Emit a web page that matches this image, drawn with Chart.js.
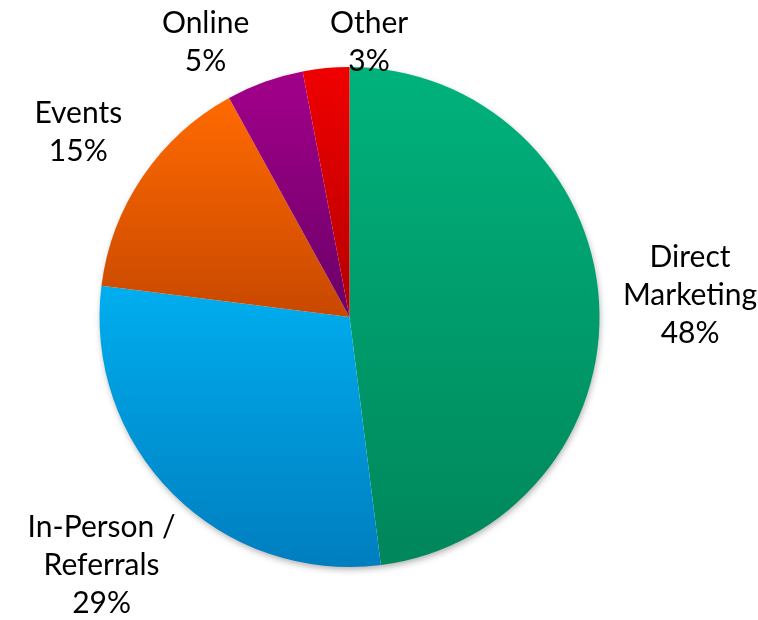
<!DOCTYPE html>
<html>
<head>
<meta charset="utf-8">
<script src="https://cdn.jsdelivr.net/npm/chart.js@4/dist/chart.umd.min.js"></script>
<style>
  html, body { margin: 0; padding: 0; background: #fff; }
  canvas { display: block; }
</style>
</head>
<body>
<canvas id="chart" width="758" height="620"></canvas>
<script>
const categories = [['Direct', 'Marketing'], ['In-Person /', 'Referrals'], ['Events'], ['Online'], ['Other']]
const shares = [48, 29, 15, 5, 3]
const topColors = ['#00B27C', '#00AEEF', '#FF6A00', '#A3008A', '#F00000']
const bottomColors = ['#00865A', '#007EBF', '#C84800', '#6A0068', '#B50000']

const FONT = '30px Lato, "Open Sans", sans-serif'
const LINE_H = 38

// vertical gradient spanning each slice's own bounding box (like the office chart)
function sliceGradient(ctx) {
  const chart = ctx.chart
  const area = chart.chartArea
  if (!area) return topColors[ctx.dataIndex]
  const cx = (area.left + area.right) / 2
  const cy = (area.top + area.bottom) / 2
  const r = Math.min(area.right - area.left, area.bottom - area.top) / 2
  const total = shares.reduce((a, b) => a + b, 0)
  let before = 0
  for (let i = 0; i < ctx.dataIndex; i++) before += shares[i]
  const a0 = -Math.PI / 2 + (2 * Math.PI * before) / total
  const a1 = a0 + (2 * Math.PI * shares[ctx.dataIndex]) / total
  let minY = cy
  let maxY = cy
  for (let k = 0; k <= 120; k++) {
    const a = a0 + ((a1 - a0) * k) / 120
    const y = cy + r * Math.sin(a)
    minY = Math.min(minY, y)
    maxY = Math.max(maxY, y)
  }
  const g = chart.ctx.createLinearGradient(0, minY, 0, maxY)
  g.addColorStop(0, topColors[ctx.dataIndex])
  g.addColorStop(1, bottomColors[ctx.dataIndex])
  return g
}

const pieShadow = {
  id: 'pieShadow',
  beforeDatasetsDraw(chart) {
    const arc = chart.getDatasetMeta(0).data[0]
    if (!arc) return
    const { x, y, outerRadius } = arc.getProps(['x', 'y', 'outerRadius'], true)
    const c = chart.ctx
    c.save()
    c.shadowColor = 'rgba(0,0,0,0.35)'
    c.shadowBlur = 7
    c.shadowOffsetX = 1
    c.shadowOffsetY = 3
    c.fillStyle = '#ffffff'
    c.beginPath()
    c.arc(x, y, outerRadius - 1, 0, Math.PI * 2)
    c.fill()
    c.restore()
  },
}

const outsideLabels = {
  id: 'outsideLabels',
  afterDatasetsDraw(chart) {
    const c = chart.ctx
    const meta = chart.getDatasetMeta(0)
    const total = shares.reduce((a, b) => a + b, 0)
    const gap = 20
    const pad = 4
    const placed = []
    c.save()
    c.font = FONT
    c.fillStyle = '#000'
    c.textAlign = 'center'
    c.textBaseline = 'middle'
    meta.data.forEach((arc, i) => {
      const p = arc.getProps(['x', 'y', 'startAngle', 'endAngle', 'outerRadius'], true)
      const lines = categories[i].concat([Math.round((shares[i] / total) * 100) + '%'])
      const w = Math.max(...lines.map(l => c.measureText(l).width)) + pad * 2
      const h = lines.length * LINE_H
      const mid = (p.startAngle + p.endAngle) / 2
      const ux = Math.cos(mid)
      const uy = Math.sin(mid)
      const t = Math.min(Math.abs(ux) > 1e-6 ? w / 2 / Math.abs(ux) : Infinity,
        Math.abs(uy) > 1e-6 ? h / 2 / Math.abs(uy) : Infinity)
      const d = p.outerRadius + gap + t
      let lx = p.x + ux * d
      let ly = p.y + uy * d
      const minY = h / 2 + 4
      const maxY = chart.height - h / 2 + 2
      if (ly < minY || ly > maxY) {
        const ny = ly < minY ? minY : maxY
        const dy = ny - p.y
        const slide = Math.sqrt(Math.max(d * d - dy * dy, 0)) * Math.sign(ux)
        let sx = p.x + slide
        const other = placed.find(b => Math.abs(b.x - sx) < (b.w + w) / 2 && Math.abs(b.y - ny) < (b.h + h) / 2)
        if (other) {
          // crowded: sit beside the slice's rim point, away from the neighbour
          const rimX = p.x + ux * p.outerRadius
          sx = rimX + (w / 2) * (other.x < rimX ? 1 : -1)
        }
        lx = sx
        ly = ny
      }
      placed.push({ x: lx, y: ly, w, h })
      lines.forEach((l, k) => {
        c.fillText(l, lx, ly - h / 2 + LINE_H * (k + 0.5))
      })
    })
    c.restore()
  },
}

new Chart(document.getElementById('chart'), {
  type: 'pie',
  data: {
    labels: categories.map(l => l.join(' ')),
    datasets: [{
      data: shares,
      backgroundColor: sliceGradient,
      borderWidth: 0,
    }],
  },
  options: {
    responsive: false,
    animation: false,
    layout: { padding: { top: 67, bottom: 53, left: 99, right: 158 } },
    plugins: {
      legend: { display: false },
      tooltip: { enabled: false },
    },
  },
  plugins: [pieShadow, outsideLabels],
})
</script>
</body>
</html>
